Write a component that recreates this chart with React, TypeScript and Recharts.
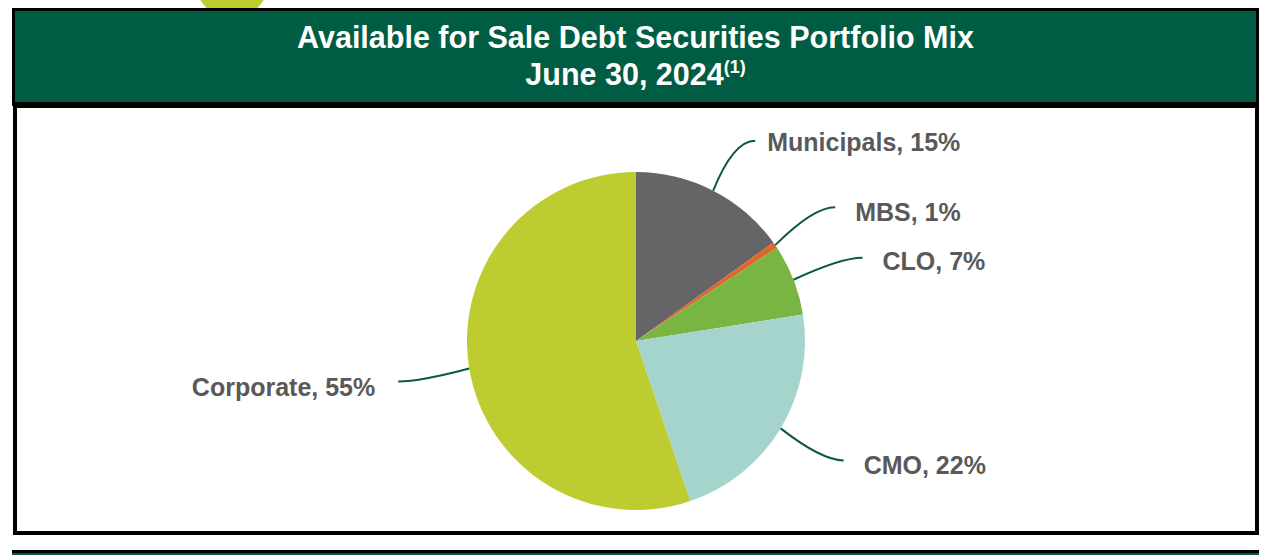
import { PieChart, Pie, Cell } from 'recharts';

const categories = ['Municipals', 'MBS', 'CLO', 'CMO', 'Corporate'];
const shares = [15.1, 0.6, 6.8, 22.3, 55.2];
const pctLabels = ['15%', '1%', '7%', '22%', '55%'];

const colors = ['#656568', '#E0662A', '#78B543', '#A5D4CC', '#BDCC30'];
// leader line end relative to the slice edge point, then text gap / vertical nudge
const leaderOffsets = [
  { dx: 42, dy: -50, gap: 12, ty: 1 },
  { dx: 60, dy: -38, gap: 20, ty: 5 },
  { dx: 69, dy: -22, gap: 20, ty: 3 },
  { dx: 63, dy: 32, gap: 20, ty: 5 },
  { dx: -71, dy: 13, gap: 23, ty: 6 },
];

const data = categories.map((name, i) => ({ name, value: shares[i], pct: pctLabels[i] }));

const RADIAN = Math.PI / 180;
const FONT = '"Liberation Sans", Arial, Helvetica, sans-serif';

const renderLabel = (props: any) => {
  const { cx, cy, midAngle, outerRadius, index } = props;
  const sx = cx + outerRadius * Math.cos(-midAngle * RADIAN);
  const sy = cy + outerRadius * Math.sin(-midAngle * RADIAN);
  const off = leaderOffsets[index];
  const ex = sx + off.dx;
  const ey = sy + off.dy;
  const right = off.dx > 0;
  const qx = ex - (right ? 22 : -22);
  const qy = ey;
  const tx = right ? ex + off.gap : ex - off.gap;
  return (
    <g key={`lbl-${index}`}>
      <path
        d={`M${sx},${sy} Q${qx},${qy} ${ex},${ey}`}
        stroke="#0B5A3F"
        strokeWidth={2}
        fill="none"
      />
      <text
        x={tx}
        y={ey + off.ty}
        textAnchor={right ? 'start' : 'end'}
        dominantBaseline="central"
        fill="#595959"
        fontFamily={FONT}
        fontWeight="bold"
        fontSize={25}
      >
        {`${data[index].name}, ${data[index].pct}`}
      </text>
    </g>
  );
};

export default function App() {
  return (
    <div
      style={{
        position: 'fixed',
        left: 0,
        top: 0,
        width: 1268,
        height: 555,
        background: '#fff',
        overflow: 'hidden',
        fontFamily: FONT,
      }}
    >
      <div
        style={{
          position: 'absolute',
          left: 195,
          top: -56,
          width: 74,
          height: 74,
          borderRadius: '50%',
          background: '#BDCC30',
        }}
      />
      <div
        style={{
          position: 'absolute',
          left: 12,
          top: 8,
          width: 1247,
          height: 98,
          boxSizing: 'border-box',
          border: '3px solid #000',
          borderBottomWidth: 4,
          background: '#005C42',
          color: '#fff',
          fontWeight: 'bold',
          fontSize: 30.5,
          textAlign: 'center',
        }}
      >
        <div style={{ position: 'absolute', left: 0, right: 0, top: 9, lineHeight: '34px' }}>
          Available for Sale Debt Securities Portfolio Mix
        </div>
        <div style={{ position: 'absolute', left: 0, right: 0, top: 46, lineHeight: '34px' }}>
          June 30, 2024
          <span style={{ fontSize: 18, position: 'relative', top: -12 }}>(1)</span>
        </div>
      </div>
      <div
        style={{
          position: 'absolute',
          left: 13,
          top: 105,
          width: 1246,
          height: 430,
          boxSizing: 'border-box',
          border: '4px solid #000',
          borderTopWidth: 3,
          background: '#fff',
        }}
      />
      <div
        style={{
          position: 'absolute',
          left: 12,
          top: 550,
          width: 1247,
          height: 20,
          borderTop: '3px solid #000',
          background: '#005C42',
        }}
      />
      <div style={{ position: 'absolute', left: 0, top: 0 }}>
        <PieChart width={1268} height={555} margin={{ top: 0, right: 0, bottom: 0, left: 0 }}>
          <Pie
            data={data}
            dataKey="value"
            nameKey="name"
            cx={636}
            cy={341}
            outerRadius={169}
            startAngle={90}
            endAngle={-270}
            stroke="none"
            label={renderLabel}
            labelLine={false}
            isAnimationActive={false}
          >
            {data.map((d, i) => (
              <Cell key={d.name} fill={colors[i]} />
            ))}
          </Pie>
        </PieChart>
      </div>
    </div>
  );
}
